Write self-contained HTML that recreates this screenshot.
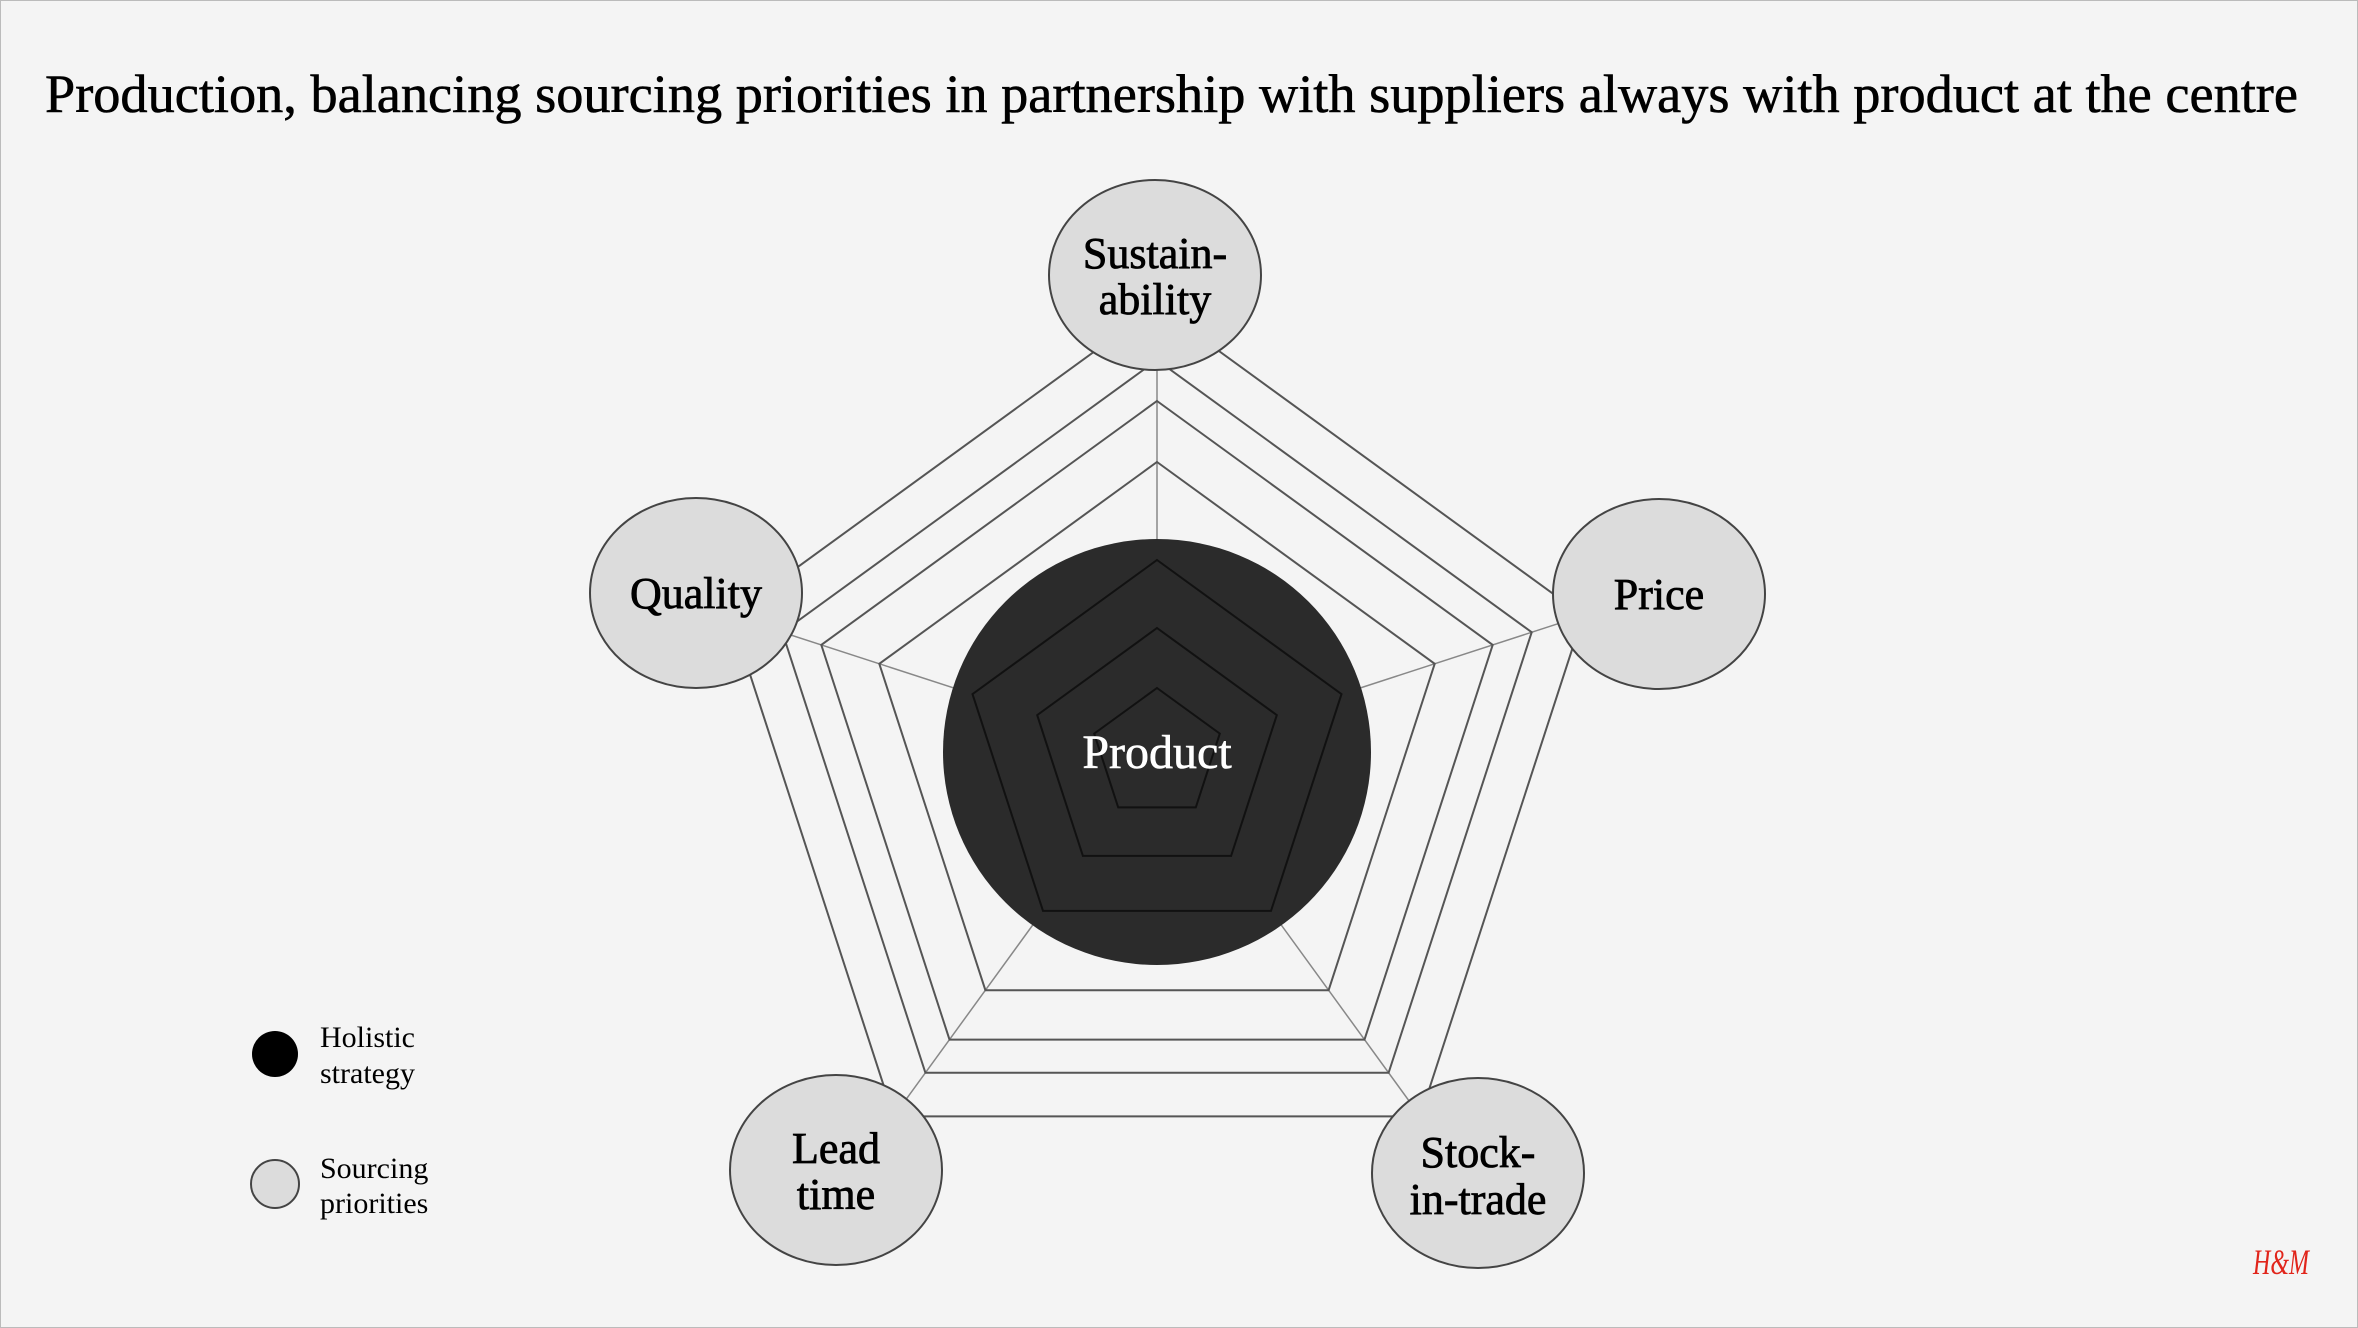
<!DOCTYPE html>
<html><head><meta charset="utf-8"><style>
html,body{margin:0;padding:0;background:#f4f4f4;}
svg{display:block;}
text{font-family:"Liberation Serif",serif;}
</style></head><body>
<svg width="2358" height="1328" viewBox="0 0 2358 1328" xmlns="http://www.w3.org/2000/svg">
<rect x="0.5" y="0.5" width="2357" height="1327" fill="#f4f4f4" stroke="#bbb" stroke-width="1"/>
<text x="45" y="112" font-size="54" fill="#000" stroke="#000" stroke-width="0.6" textLength="2253" lengthAdjust="spacingAndGlyphs">Production, balancing sourcing priorities in partnership with suppliers always with product at the centre</text>
<g id="d"></g>
<script>
(function(){
var cx=1157,cy=754,ns="http://www.w3.org/2000/svg",g=document.getElementById('d');
function pts(R){var a=[];for(var i=0;i<5;i++){var t=-Math.PI/2+i*2*Math.PI/5;a.push((cx+R*Math.cos(t)).toFixed(1)+','+(cy+R*Math.sin(t)).toFixed(1));}return a.join(' ');}
function el(n,at){var e=document.createElementNS(ns,n);for(var k in at)e.setAttribute(k,at[k]);g.appendChild(e);return e;}
for(var i=0;i<5;i++){var t=-Math.PI/2+i*2*Math.PI/5;el('line',{x1:cx,y1:cy,x2:cx+448*Math.cos(t),y2:cy+448*Math.sin(t),stroke:'#888','stroke-width':1.5});}
[292,353,394,448].forEach(function(R){el('polygon',{points:pts(R),fill:'none',stroke:'#555','stroke-width':2});});
el('ellipse',{cx:cx,cy:752,rx:214,ry:213,fill:'#2b2b2b'});
[66,126,194].forEach(function(R){el('polygon',{points:pts(R),fill:'none',stroke:'#111','stroke-width':2});});
[[1155,275],[696,593],[1659,594],[836,1170],[1478,1173]].forEach(function(p){el('ellipse',{cx:p[0],cy:p[1],rx:106,ry:95,fill:'#dcdcdc',stroke:'#444','stroke-width':2});});
})();
</script>
<g font-size="44" fill="#000" stroke="#000" stroke-width="0.8" text-anchor="middle">
<text x="1155" y="268">Sustain-</text><text x="1155" y="314">ability</text>
<text x="696" y="608">Quality</text>
<text x="1659" y="609">Price</text>
<text x="836" y="1163">Lead</text><text x="836" y="1209">time</text>
<text x="1478" y="1167">Stock-</text><text x="1478" y="1214">in-trade</text>
</g>
<text x="1157" y="768" font-size="48" fill="#fff" stroke="#fff" stroke-width="0.6" text-anchor="middle">Product</text>
<circle cx="275" cy="1054" r="23" fill="#000"/>
<circle cx="275" cy="1184" r="24" fill="#dcdcdc" stroke="#444" stroke-width="2"/>
<g font-size="30" fill="#000">
<text x="320" y="1047">Holistic</text><text x="320" y="1083">strategy</text>
<text x="320" y="1178">Sourcing</text><text x="320" y="1213">priorities</text>
</g>
<text x="2253" y="1274" font-size="36" fill="#e1251b" font-style="italic" textLength="56" lengthAdjust="spacingAndGlyphs">H&amp;M</text>
</svg>
</body></html>
